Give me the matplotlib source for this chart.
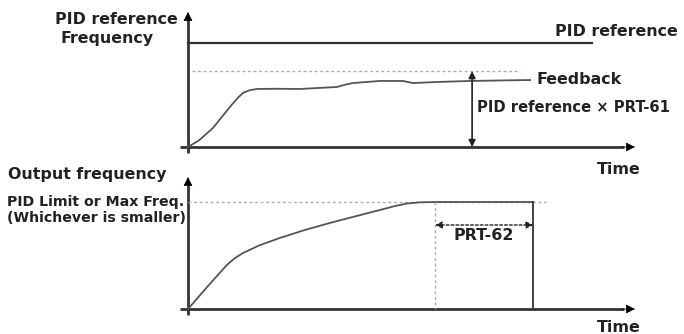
import matplotlib
matplotlib.use("Agg")
import matplotlib.pyplot as plt
import numpy as np

# ---------------- data ----------------
# Top panel: feedback response (time units 0..100, value: PID reference = 100)
fb_time = [0, 2.5, 5.6, 7.6, 9.4, 11.0, 12.3, 13.8, 15.5, 20.0, 25.1, 33.4, 35.5, 37.0,
           43.0, 48.2, 50.4, 55.8, 63.2, 76.7]
fb_value = [0, 6.5, 18.3, 29.0, 38.5, 46.5, 51.9, 54.6, 55.8, 56.0, 55.8, 57.7, 60.2, 61.5,
            63.5, 63.5, 61.5, 62.5, 63.5, 64.4]
pid_reference = 100
pid_ref_end = 90.5
feedback_target = 73      # PID reference x PRT-61
target_end = 74.5
prt61_time = 63.7

# Bottom panel: output frequency (value: PID limit = 100)
out_time = [0, 4.3, 8.7, 10.5, 12.3, 16.0, 20.6, 26.0, 31.8, 37.5, 43.0, 46.5, 49.1, 52.0,
            55.4, 77.4]
out_value = [0, 20.6, 41.1, 47.5, 52.3, 59.5, 66.4, 73.6, 80.4, 86.6, 92.5, 96.3, 98.6, 99.7,
             100, 100]
limit_value = 100
limit_end = 80.3
prt62_start = 55.4
prt62_end = 77.4
prt62_level = 78.5

# --------------- figure ---------------
W, H = 684, 334
fig = plt.figure(figsize=(W / 100, H / 100), dpi=100)
plt.rcParams['font.family'] = ['DejaVu Sans']
TXT = '#222222'
LC = '#333333'
FS = 11.4
FS_S = 10.2

x0_px, px_per_t = 188, 4.46
xlim = (-x0_px / px_per_t, (W - x0_px) / px_per_t)

def make_axes(top_px, bot_px, zero_py, scale):
    ax = fig.add_axes([0, 1 - bot_px / H, 1, (bot_px - top_px) / H])
    ax.set_xlim(*xlim)
    ax.set_ylim((zero_py - bot_px) / scale, (zero_py - top_px) / scale)
    ax.axis('off')
    return ax

ax1 = make_axes(0, 165, 147, 1.04)
ax2 = make_axes(165, 334, 309, 1.07)

def v_of(ax, py, zero_py, scale):
    return (zero_py - py) / scale

def t_of(px):
    return (px - x0_px) / px_per_t

def draw_axes(ax, zero_py, scale, top_py):
    ax.plot([0, 0], [v_of(ax, zero_py + 6, zero_py, scale), v_of(ax, top_py + 8, zero_py, scale)],
            color=LC, lw=2.0, solid_capstyle='butt')
    ax.annotate('', xy=(0, v_of(ax, top_py, zero_py, scale)),
                xytext=(0, v_of(ax, top_py + 9, zero_py, scale)),
                arrowprops=dict(arrowstyle='-|>', color='black', lw=0.5,
                                mutation_scale=14, shrinkA=0, shrinkB=0))
    ax.plot([t_of(180), t_of(624)], [0, 0], color=LC, lw=2.0, solid_capstyle='butt')
    ax.annotate('', xy=(t_of(635), 0), xytext=(t_of(622), 0),
                arrowprops=dict(arrowstyle='-|>', color='black', lw=0.5,
                                mutation_scale=14, shrinkA=0, shrinkB=0))

draw_axes(ax1, 147, 1.04, 12)
draw_axes(ax2, 309, 1.07, 177)

# ----- top panel -----
ax1.plot([0, pid_ref_end], [pid_reference, pid_reference], color=LC, lw=1.6)
ax1.plot([1, target_end], [feedback_target, feedback_target], color='#aaaaaa',
         lw=1.0, ls=(0, (2, 2)))
ax1.plot(fb_time, fb_value, color='#555555', lw=1.3)
ax1.annotate('', xy=(prt61_time, feedback_target), xytext=(prt61_time, 0),
             arrowprops=dict(arrowstyle='<|-|>', color='#222222', lw=1.2,
                             mutation_scale=10, shrinkA=0, shrinkB=0))

ax1.text(t_of(555), v_of(ax1, 31, 147, 1.04), 'PID reference', fontsize=FS,
         fontweight='bold', color=TXT, va='center', ha='left')
ax1.text(t_of(537), v_of(ax1, 80, 147, 1.04), 'Feedback', fontsize=FS,
         fontweight='bold', color=TXT, va='center', ha='left')
ax1.text(t_of(477), v_of(ax1, 107, 147, 1.04), 'PID reference × PRT-61', fontsize=10.6,
         fontweight='bold', color=TXT, va='center', ha='left')
ax1.text(t_of(619), v_of(ax1, 169, 147, 1.04), 'Time', fontsize=FS,
         fontweight='bold', color=TXT, va='center', ha='center', clip_on=False)

fig.text(178 / W, 1 - 19 / H, 'PID reference', fontsize=FS, fontweight='bold',
         color=TXT, ha='right', va='center')
fig.text(60 / W, 1 - 38 / H, 'Frequency', fontsize=FS, fontweight='bold',
         color=TXT, ha='left', va='center')

# ----- bottom panel -----
ax2.plot([0, limit_end], [limit_value, limit_value], color='#aaaaaa', lw=1.0,
         ls=(0, (2, 2)))
ax2.plot(out_time, out_value, color='#555555', lw=1.3)
ax2.plot([out_time[-1], out_time[-1]], [out_value[-1], 0], color='#333333', lw=1.3)
ax2.plot([prt62_start, prt62_start], [limit_value, 0], color='#aaaaaa', lw=1.0,
         ls=(0, (2, 2)))
ax2.annotate('', xy=(prt62_start, prt62_level), xytext=(prt62_end, prt62_level),
             arrowprops=dict(arrowstyle='<|-|>', color='#222222', lw=1.0,
                             ls=(0, (2, 1.5)), mutation_scale=10, shrinkA=0, shrinkB=0))
ax2.text((prt62_start + prt62_end) / 2, v_of(ax2, 236, 309, 1.07), 'PRT-62',
         fontsize=FS, fontweight='bold', color=TXT, ha='center', va='center')
ax2.text(t_of(619), v_of(ax2, 327, 309, 1.07), 'Time', fontsize=FS,
         fontweight='bold', color=TXT, va='center', ha='center', clip_on=False)

fig.text(8 / W, 1 - 175 / H, 'Output frequency', fontsize=FS, fontweight='bold',
         color=TXT, ha='left', va='center')
fig.text(7 / W, 1 - 202 / H, 'PID Limit or Max Freq.', fontsize=FS_S,
         fontweight='bold', color=TXT, ha='left', va='center')
fig.text(7 / W, 1 - 218 / H, '(Whichever is smaller)', fontsize=FS_S,
         fontweight='bold', color=TXT, ha='left', va='center')

fig.savefig('out.png', dpi=100, facecolor='white')
